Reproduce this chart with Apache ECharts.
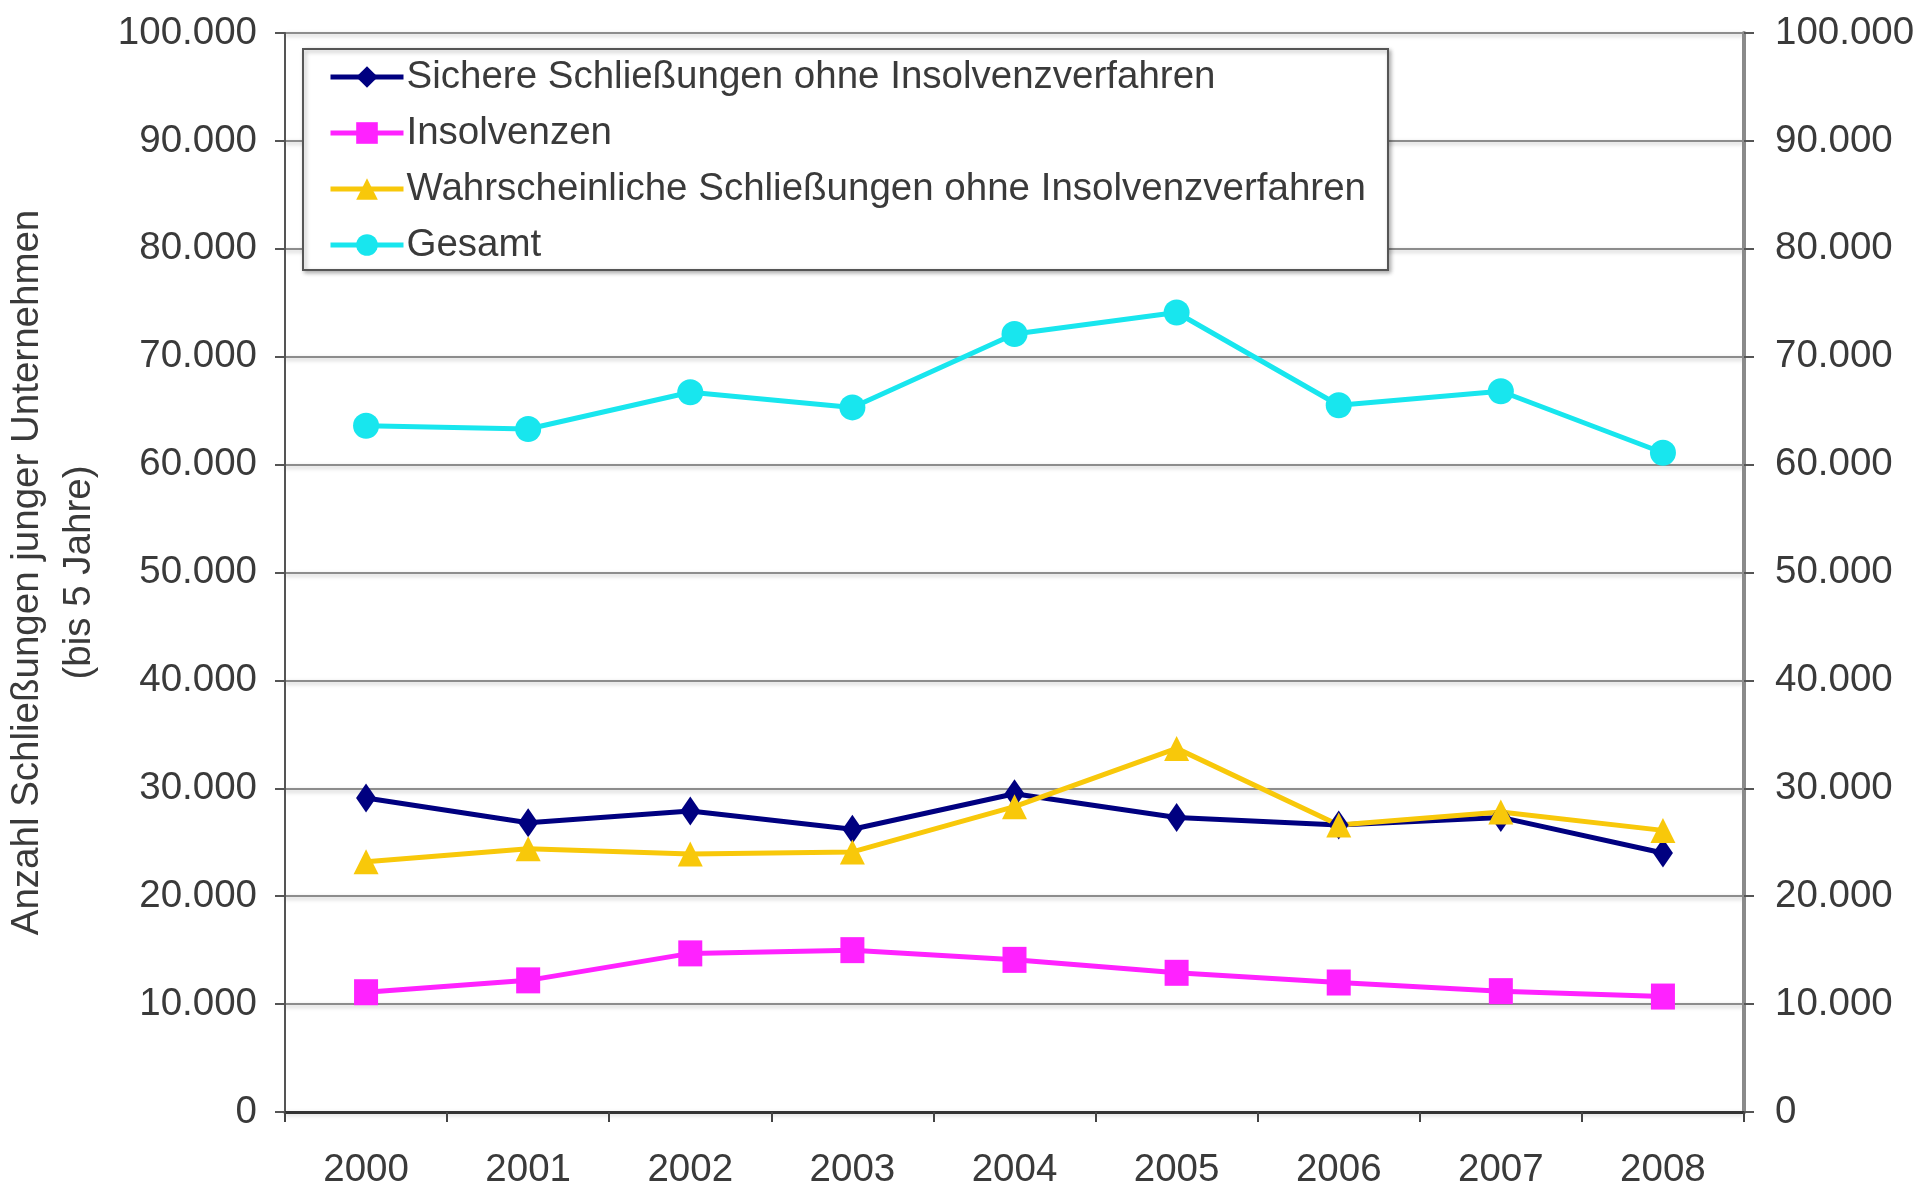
<!DOCTYPE html>
<html lang="de">
<head>
<meta charset="UTF-8">
<title>Schließungen junger Unternehmen</title>
<script src="https://cdn.jsdelivr.net/npm/echarts@6/dist/echarts.min.js"></script>
<style>
  html, body { margin: 0; padding: 0; background: #fff; }
  #chart { width: 1919px; height: 1186px; }
</style>
</head>
<body>
<div id="chart"></div>
<script>
// data
var years = ['2000', '2001', '2002', '2003', '2004', '2005', '2006', '2007', '2008'];
var sichere = [29100, 26800, 27900, 26200, 29500, 27300, 26600, 27300, 24000];
var insolvenzen = [11100, 12200, 14700, 15000, 14100, 12900, 12000, 11200, 10700];
var wahrscheinliche = [23200, 24400, 23900, 24100, 28300, 33700, 26600, 27800, 26100];
var gesamt = [63600, 63300, 66700, 65300, 72100, 74100, 65500, 66800, 61100];

var font = 'Liberation Sans, Arial, sans-serif';
var fs = 38.5;
var txt = '#3a3a3a';

function fmt(v) {
  // german thousands separator
  if (v === 0) return '0';
  return Math.round(v / 1000) + '.000';
}

var chart = echarts.init(document.getElementById('chart'));

function yAx(pos) {
  return {
    type: 'value',
    position: pos,
    min: 0,
    max: 100000,
    interval: 10000,
    axisLine: { show: true, lineStyle: { color: pos == 'left' ? '#555' : '#8a8a8a', width: pos == 'left' ? 2 : 4 } },
    axisTick: { show: true, length: 10, lineStyle: { color: '#555', width: 2 } },
    axisLabel: { margin: pos == 'left' ? 28 : 31, color: txt, fontSize: fs, fontFamily: font, formatter: fmt },
    splitLine: pos == 'left' ? {
      show: true,
      lineStyle: { color: '#8c8c8c', width: 2, shadowColor: 'rgba(0,0,0,0.25)', shadowBlur: 4, shadowOffsetY: 2 }
    } : { show: false }
  };
}

var left = yAx('left');
left.name = 'Anzahl Schließungen junger Unternehmen\n(bis 5 Jahre)';
left.nameLocation = 'middle';
left.nameRotate = 90;
left.nameGap = 180;
left.nameTextStyle = { color: txt, fontSize: fs, fontFamily: font, lineHeight: 52 };

function line(name, data, color, symbol, size) {
  return {
    name: name,
    type: 'line',
    data: data,
    symbol: symbol,
    symbolSize: size,
    showSymbol: true,
    itemStyle: { color: color },
    lineStyle: { color: color, width: 5 },
    z: 3
  };
}

chart.setOption({
  backgroundColor: '#fff',
  animation: false,
  grid: { left: 285, right: 175, top: 33, bottom: 74, outerBoundsMode: 'none' },
  legend: {
    orient: 'vertical',
    left: 303,
    top: 49,
    padding: [6, 22, 3, 25],
    itemGap: 12,
    itemWidth: 73,
    itemHeight: 27,
    backgroundColor: '#fff',
    borderColor: '#555',
    borderWidth: 2,
    borderRadius: 0,
    shadowColor: 'rgba(0,0,0,0.3)',
    shadowBlur: 4,
    shadowOffsetX: 2,
    shadowOffsetY: 2,
    lineStyle: { width: 5 },
    textStyle: { color: txt, fontSize: fs, fontFamily: font, lineHeight: 44, padding: [0, 0, 0, -2] },
    data: [
      'Sichere Schließungen ohne Insolvenzverfahren',
      'Insolvenzen',
      'Wahrscheinliche Schließungen ohne Insolvenzverfahren',
      'Gesamt'
    ]
  },
  xAxis: {
    type: 'category',
    data: years,
    boundaryGap: true,
    axisLine: { lineStyle: { color: '#333', width: 3 } },
    axisTick: { show: true, length: 10, lineStyle: { color: '#444', width: 2 } },
    axisLabel: { margin: 39, color: txt, fontSize: fs, fontFamily: font }
  },
  yAxis: [left, yAx('right')],
  series: [
    line('Sichere Schließungen ohne Insolvenzverfahren', sichere, '#000080', 'diamond', [20, 29]),
    line('Insolvenzen', insolvenzen, '#ff22ff', 'rect', [24, 26]),
    line('Wahrscheinliche Schließungen ohne Insolvenzverfahren', wahrscheinliche, '#f8c80a', 'triangle', [25, 25]),
    line('Gesamt', gesamt, '#18e6ee', 'circle', 26)
  ]
});
</script>
</body>
</html>
